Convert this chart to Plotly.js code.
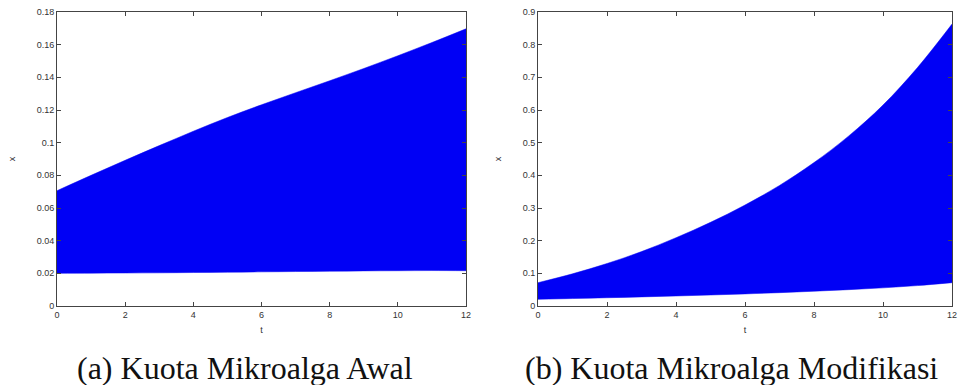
<!DOCTYPE html>
<html>
<head>
<meta charset="utf-8">
<script src="https://cdn.plot.ly/plotly-3.0.1.min.js"></script>
<style>html,body{margin:0;padding:0;background:#fff;}#chart{width:958px;height:385px;}</style>
</head>
<body>
<div id="chart"></div>
<script>
// Time points
const t = [0, 1, 2, 3, 4, 5, 6, 7, 8, 9, 10, 11, 12];

// (a) Kuota Mikroalga Awal — envelope of the oscillating solution x(t)
const awalUpper = [0.0706, 0.0800, 0.0892, 0.0982, 0.1070, 0.1154, 0.1232, 0.1306, 0.1379, 0.1454, 0.1532, 0.1613, 0.1697];
const awalLower = [0.0200, 0.0201, 0.0202, 0.0203, 0.0205, 0.0207, 0.0209, 0.0211, 0.0213, 0.0215, 0.0216, 0.0217, 0.0216];

// (b) Kuota Mikroalga Modifikasi — envelope of the oscillating solution x(t)
const modUpper = [0.0714, 0.0985, 0.1300, 0.1665, 0.2090, 0.2560, 0.3090, 0.3690, 0.4390, 0.5200, 0.6150, 0.7300, 0.8630];
const modLower = [0.0204, 0.0228, 0.0253, 0.0279, 0.0307, 0.0337, 0.0370, 0.0408, 0.0452, 0.0500, 0.0555, 0.0625, 0.0714];

// Tick labels
const xTicks = [0, 2, 4, 6, 8, 10, 12];
const xTickText = ['0', '2', '4', '6', '8', '10', '12'];
const yTicksA = [0, 0.02, 0.04, 0.06, 0.08, 0.1, 0.12, 0.14, 0.16, 0.18];
const yTickTextA = ['0', '0.02', '0.04', '0.06', '0.08', '0.1', '0.12', '0.14', '0.16', '0.18'];
const yTicksB = [0, 0.1, 0.2, 0.3, 0.4, 0.5, 0.6, 0.7, 0.8, 0.9];
const yTickTextB = ['0', '0.1', '0.2', '0.3', '0.4', '0.5', '0.6', '0.7', '0.8', '0.9'];

const captions = ['(a) Kuota Mikroalga Awal', '(b) Kuota Mikroalga Modifikasi'];

const blue = 'rgb(0,0,245)';

function band(lower, upper, xa, ya) {
  return [
    {x: t, y: lower, xaxis: xa, yaxis: ya, type: 'scatter', mode: 'lines',
     line: {width: 0.5, color: blue, shape: 'spline', smoothing: 1}, hoverinfo: 'skip', showlegend: false},
    {x: t, y: upper, xaxis: xa, yaxis: ya, type: 'scatter', mode: 'lines',
     line: {width: 0.5, color: blue, shape: 'spline', smoothing: 1}, fill: 'tonexty', fillcolor: blue,
     hoverinfo: 'skip', showlegend: false}
  ];
}

const data = [].concat(band(awalLower, awalUpper, 'x', 'y'), band(modLower, modUpper, 'x2', 'y2'));

const axFont = {family: "'Liberation Sans', Arial, sans-serif", size: 9, color: '#333'};
function xAxis(domain, anchor) {
  return {
    domain: domain, anchor: anchor, range: [0, 12], tickvals: xTicks, ticktext: xTickText,
    ticks: 'inside', ticklen: 4, tickcolor: '#444', showline: true, linecolor: '#444', linewidth: 1,
    mirror: 'allticks', showgrid: false, zeroline: false, tickfont: axFont,
    title: {text: 't', font: axFont, standoff: 7}, automargin: false
  };
}
function yAxis(domain, anchor, range, vals, text) {
  return {
    domain: domain, anchor: anchor, range: range, tickvals: vals, ticktext: text,
    ticks: 'inside', ticklen: 4, tickcolor: '#444', showline: true, linecolor: '#444', linewidth: 1,
    mirror: 'allticks', showgrid: false, zeroline: false, tickfont: axFont,
    title: {text: 'x', font: axFont, standoff: 19}, automargin: false
  };
}

const capFont = {family: "'Liberation Serif', 'DejaVu Serif', serif", size: 32, color: '#111'};
const yDom = [1 - 306 / 385, 1 - 12 / 385];
const layout = {
  width: 958, height: 385,
  margin: {l: 0, r: 0, t: 0, b: 0},
  paper_bgcolor: '#fff', plot_bgcolor: '#fff',
  showlegend: false,
  xaxis: xAxis([57 / 958, 466 / 958], 'y'),
  yaxis: yAxis(yDom, 'x', [0, 0.18], yTicksA, yTickTextA),
  xaxis2: xAxis([538 / 958, 952 / 958], 'y2'),
  yaxis2: yAxis(yDom, 'x2', [0, 0.9], yTicksB, yTickTextB),
  annotations: [
    {text: captions[0], xref: 'paper', yref: 'paper', x: 245 / 958, y: 1 - 368 / 385,
     xanchor: 'center', yanchor: 'middle', showarrow: false, font: capFont},
    {text: captions[1], xref: 'paper', yref: 'paper', x: 731 / 958, y: 1 - 368 / 385,
     xanchor: 'center', yanchor: 'middle', showarrow: false, font: capFont}
  ]
};

Plotly.newPlot('chart', data, layout, {staticPlot: true, displayModeBar: false});
</script>
</body>
</html>
